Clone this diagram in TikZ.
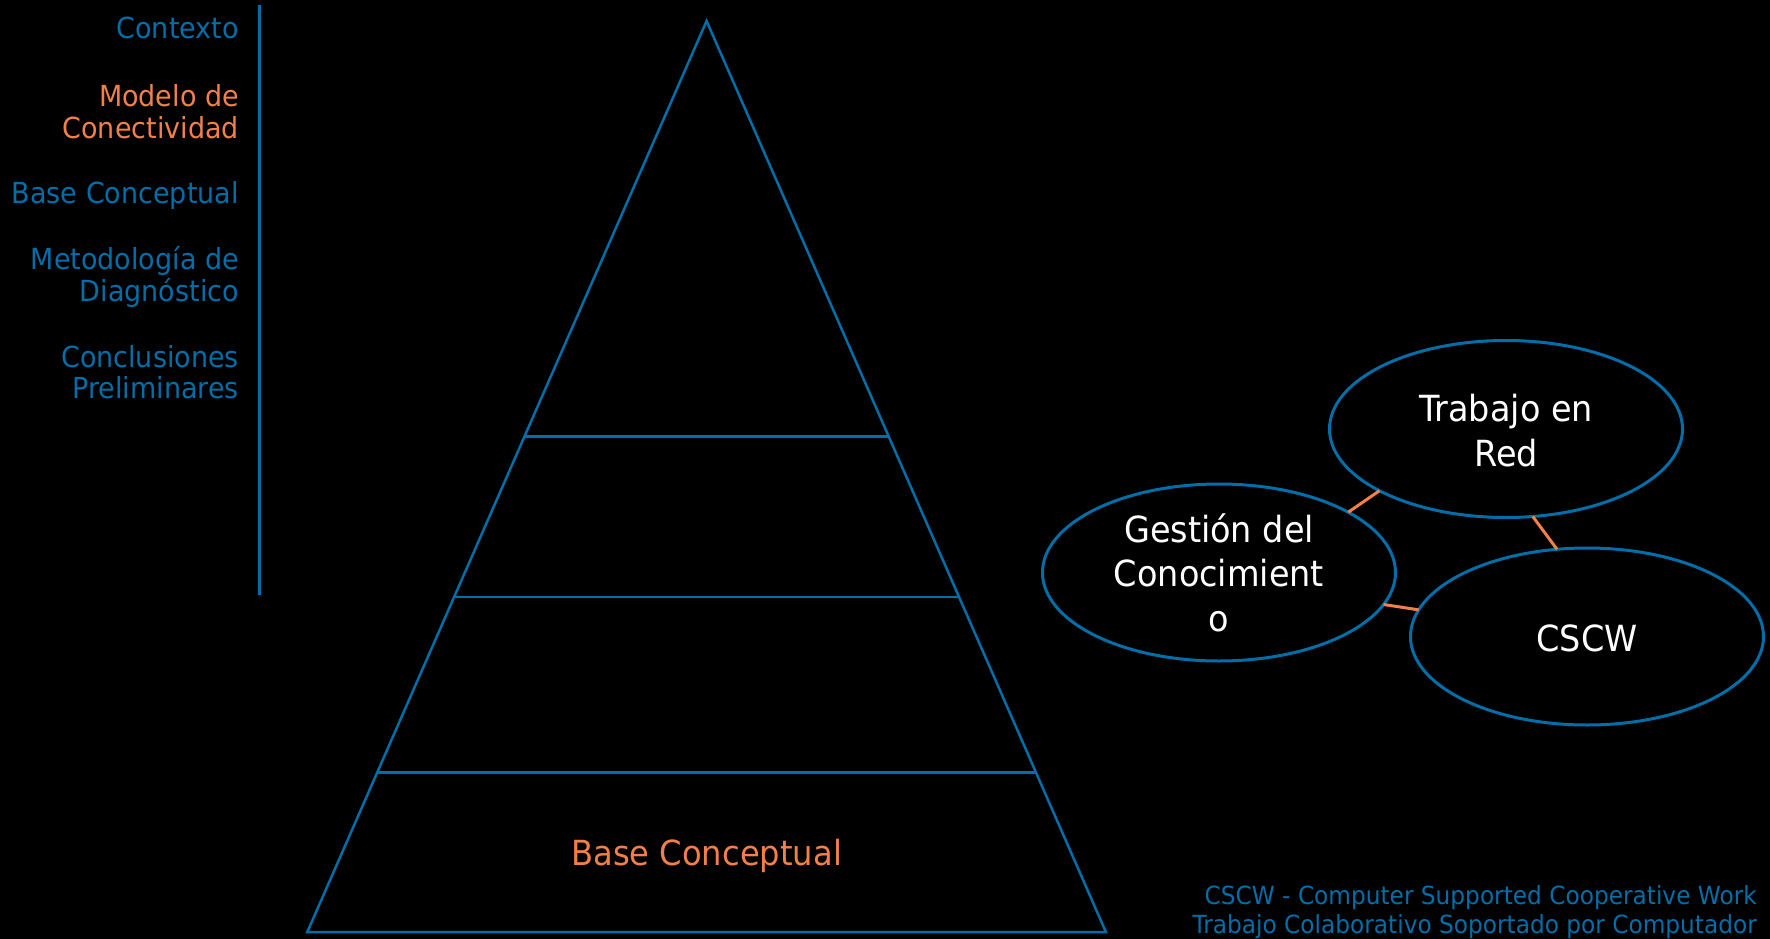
\documentclass[tikz,border=0pt]{standalone}
\usepackage{fontspec}
\setmainfont{DejaVu Sans}[FakeStretch=0.93]
\usetikzlibrary{calc,shapes.geometric}
\definecolor{cblue}{RGB}{0,110,168}
\definecolor{corange}{RGB}{243,128,73}
\tikzset{
  pyr/.style={draw=cblue, line width=2.5pt, line join=miter},
  ell/.style={ellipse, draw=cblue, line width=3pt, inner sep=0pt, outer sep=0pt,
              minimum width=353pt, minimum height=177pt},
  conn/.style={draw=corange, line width=3pt},
  navtxt/.style={anchor=base east, inner sep=0pt, text=cblue},
  navsel/.style={anchor=base east, inner sep=0pt, text=corange},
  elltxt/.style={anchor=base, inner sep=0pt, text=white},
}
\newcommand{\navfont}{\fontsize{29}{30.5}\selectfont}
\newcommand{\ellfont}{\fontsize{36}{44.5}\selectfont}
\newcommand{\rlines}[1]{\begin{tabular}[t]{@{}r@{}}#1\end{tabular}}
\newcommand{\clines}[1]{\begin{tabular}[t]{@{}c@{}}#1\end{tabular}}
\begin{document}
\begin{tikzpicture}[x=1pt,y=-1pt]
\fill[black] (0,0) rectangle (1770,939);
\useasboundingbox (0,0) rectangle (1770,939);

% left navigation
\draw[draw=cblue, line width=3pt] (259,5) coordinate (vtop) -- (259,595) coordinate (vbot);
\node[navtxt] (n1) at (239,39) {\navfont Contexto};
\node[navsel] (n2) at (239,107) {\navfont\rlines{Modelo de\\Conectividad}};
\node[navtxt] (n3) at (239,203) {\navfont Base Conceptual};
\node[navtxt] (n4) at (239,269) {\navfont\rlines{Metodología de\\Diagnóstico}};
\node[navtxt] (n5) at (239,367) {\navfont\rlines{Conclusiones\\Preliminares}};

% pyramid
\coordinate (apex) at (706.6,21);
\coordinate (bl) at (307.3,932);
\coordinate (br) at (1105.9,932);
\draw[pyr] (apex) -- (br) -- (bl) -- cycle;
\draw[pyr] ($(apex)!0.4561!(bl)$) -- ($(apex)!0.4561!(br)$);
\draw[pyr] ($(apex)!0.6323!(bl)$) -- ($(apex)!0.6323!(br)$);
\draw[pyr] ($(apex)!0.8249!(bl)$) -- ($(apex)!0.8249!(br)$);
\node[anchor=base, inner sep=0pt, text=corange] (pbase) at (706.6,865)
  {\fontsize{34.6}{40}\selectfont Base Conceptual};

% ellipses
\node[ell] (T) at (1506,429) {};
\node[ell] (G) at (1219,572.5) {};
\node[ell] (C) at (1587,636.5) {};
\node[elltxt] (Tt) at (1506,421.7) {\ellfont\clines{Trabajo en\\Red}};
\node[elltxt] (Gt) at (1219,542.3) {\ellfont\clines{Gestión del\\Conocimient\\o}};
\node[elltxt] (Ct) at (1587,651.7) {\ellfont CSCW};

\draw[conn] (G.25.3) -- (T.206.4);
\draw[conn] (T.-73.9) -- (C.109.2);
\draw[conn] (G.-11.85) -- (C.171.4);

% footer
\node[navtxt] (foot) at (1757,904)
  {\fontsize{25}{29}\selectfont\rlines{CSCW - Computer Supported Cooperative Work\\Trabajo Colaborativo Soportado por Computador}};
\end{tikzpicture}
\end{document}
